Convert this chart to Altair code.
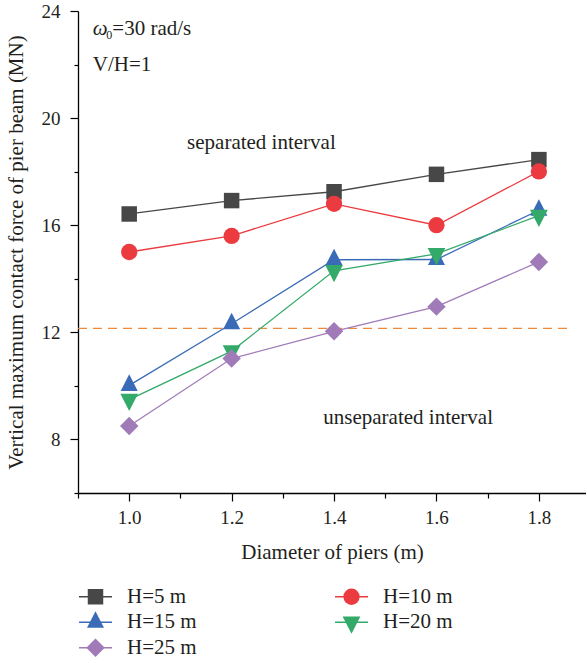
import altair as alt
import pandas as pd

# ---------------- data ----------------
diameters = [1.0, 1.2, 1.4, 1.6, 1.8]
series = ["H=5 m", "H=10 m", "H=15 m", "H=20 m", "H=25 m"]
h5 = [16.42, 16.92, 17.25, 17.90, 18.45]
h10 = [15.00, 15.60, 16.80, 16.00, 18.01]
h15 = [10.02, 12.32, 14.71, 14.72, 16.56]
h20 = [9.49, 11.30, 14.30, 14.93, 16.36]
h25 = [8.50, 11.02, 12.04, 12.96, 14.63]
values = [h5, h10, h15, h20, h25]

threshold = [12.15]
x_ticks = [0.9, 1.0, 1.1, 1.2, 1.3, 1.4, 1.5, 1.6, 1.7, 1.8, 1.9]
y_ticks = [6, 8, 10, 12, 14, 16, 18, 20, 22, 24]

# ---------------- styles ----------------
FONT = "Liberation Serif"
TXT = "#231f20"
colors = ["#474747", "#EB3B40", "#3A6BB7", "#33AA69", "#A07BB8"]
TRI_UP = "M0,-1.3L1,0.65L-1,0.65Z"
TRI_DOWN = "M0,1.3L1,-0.65L-1,-0.65Z"
shapes = ["square", "circle", TRI_UP, TRI_DOWN, "diamond"]
sizes = [240, 340, 462, 462, 500]

rows = []
for i, (name, vals) in enumerate(zip(series, values)):
    for d, v in zip(diameters, vals):
        rows.append({"series": name, "order": i, "d": d, "v": v})
df = pd.DataFrame(rows)

xscale = alt.Scale(domain=[0.9, 1.892], nice=False, zero=False)
yscale = alt.Scale(domain=[6, 24], nice=False, zero=False)
color_scale = alt.Scale(domain=series, range=colors)
shape_scale = alt.Scale(domain=series, range=shapes)
size_scale = alt.Scale(domain=series, range=sizes)

X_MAJOR = "abs(datum.value*5 - round(datum.value*5)) < 0.001"
Y_MAJOR = "datum.value % 4 == 0"

xaxis = alt.Axis(
    values=x_ticks,
    labelExpr=f"({X_MAJOR}) ? format(datum.value, '.1f') : ''",
    tickSize={"condition": {"test": X_MAJOR, "value": 8}, "value": 5},
    labelPadding=7,
    title="Diameter of piers (m)",
    titlePadding=14,
    grid=False,
)
yaxis = alt.Axis(
    values=y_ticks,
    labelExpr=f"({Y_MAJOR}) ? datum.label : ''",
    tickSize={"condition": {"test": Y_MAJOR, "value": 8}, "value": 4},
    labelPadding=10,
    title="Vertical maximum contact force of pier beam (MN)",
    titlePadding=15,
    grid=False,
)

base = alt.Chart(df)
lines = base.mark_line(strokeWidth=1.3).encode(
    x=alt.X("d:Q", scale=xscale, axis=xaxis),
    y=alt.Y("v:Q", scale=yscale, axis=yaxis),
    color=alt.Color("series:N", scale=color_scale, legend=None),
    detail="series:N",
    order="d:Q",
)
points = base.mark_point(filled=True, opacity=1, strokeWidth=0).encode(
    x=alt.X("d:Q", scale=xscale),
    y=alt.Y("v:Q", scale=yscale),
    color=alt.Color("series:N", scale=color_scale, legend=None),
    shape=alt.Shape("series:N", scale=shape_scale, legend=None),
    size=alt.Size("series:N", scale=size_scale, legend=None),
    order=alt.Order("order:Q"),
)

rule_df = pd.DataFrame({"y": threshold, "x0": [0.9], "x1": [1.866]})
rule = alt.Chart(rule_df).mark_rule(
    color="#EE8A3C", strokeWidth=1.3, strokeDash=[9, 6]
).encode(
    x=alt.X("x0:Q", scale=xscale),
    x2="x1:Q",
    y=alt.Y("y:Q", scale=yscale),
)

ann_df = pd.DataFrame({
    "t": ["V/H=1", "separated interval", "unseparated interval"],
    "x": [0.929, 1.113, 1.379],
    "y": [21.76, 18.86, 8.58],
})
ann = alt.Chart(ann_df).mark_text(
    align="left", baseline="alphabetic", font=FONT, fontSize=21, color=TXT
).encode(x=alt.X("x:Q", scale=xscale), y=alt.Y("y:Q", scale=yscale), text="t:N")

omega_df = pd.DataFrame({"x": [0.929], "y": [23.10]})
om1 = alt.Chart(omega_df).mark_text(
    align="left", baseline="alphabetic", font=FONT, fontSize=21, fontStyle="italic", color=TXT, text="ω"
).encode(x=alt.X("x:Q", scale=xscale), y=alt.Y("y:Q", scale=yscale))
om2 = alt.Chart(omega_df).mark_text(
    align="left", baseline="alphabetic", font=FONT, fontSize=12, color=TXT, text="0", dx=13.5, dy=4
).encode(x=alt.X("x:Q", scale=xscale), y=alt.Y("y:Q", scale=yscale))
om3 = alt.Chart(omega_df).mark_text(
    align="left", baseline="alphabetic", font=FONT, fontSize=21, color=TXT, text="=30 rad/s", dx=19.5
).encode(x=alt.X("x:Q", scale=xscale), y=alt.Y("y:Q", scale=yscale))

main = alt.layer(rule, lines, points, ann, om1, om2, om3).properties(width=508, height=482)

# ---------------- legend panel ----------------
leg_df = pd.DataFrame({
    "series": series,
    "col": [i % 2 for i in range(len(series))],
    "row": [i // 2 for i in range(len(series))],
})
lx = alt.X("col:Q", scale=alt.Scale(domain=[0, 1]), axis=None)
ly = alt.Y("row:Q", scale=alt.Scale(domain=[-0.5, 2.5], reverse=True), axis=None)
lbase = alt.Chart(leg_df)
lstub = lbase.mark_tick(orient="horizontal", size=33, thickness=1.3, xOffset=17.5, opacity=1).encode(
    x=lx, y=ly, color=alt.Color("series:N", scale=color_scale, legend=None)
)
lsym = lbase.mark_point(filled=True, opacity=1, strokeWidth=0, xOffset=17.5).encode(
    x=lx, y=ly,
    color=alt.Color("series:N", scale=color_scale, legend=None),
    shape=alt.Shape("series:N", scale=shape_scale, legend=None),
    size=alt.Size("series:N", scale=size_scale, legend=None),
)
ltext = lbase.mark_text(align="left", baseline="middle", font=FONT, fontSize=21, color=TXT, dx=49).encode(
    x=lx, y=ly, text="series:N"
)
legend = alt.layer(lstub, lsym, ltext).properties(width=256, height=76.5)

chart = alt.vconcat(main, legend, spacing=22).properties(
    padding={"left": 5, "top": 2, "right": 0, "bottom": 0},
    background="white",
).configure_view(stroke=None).configure_axis(
    labelFont=FONT, labelFontSize=19, labelColor=TXT,
    titleFont=FONT, titleFontSize=21, titleFontWeight="normal", titleColor=TXT,
    domainColor="#000000", domainWidth=1.3, tickColor="#000000", tickWidth=1.2,
)

chart.save("out.html", embed_options={"renderer": "svg", "actions": False})
